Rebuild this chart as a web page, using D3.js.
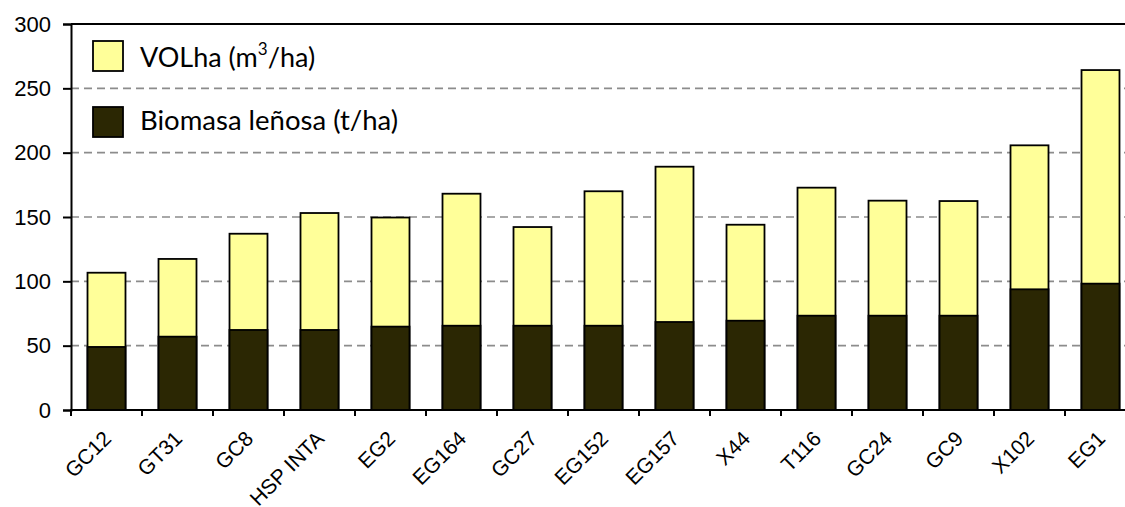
<!DOCTYPE html>
<html>
<head>
<meta charset="utf-8">
<script src="https://cdn.jsdelivr.net/npm/d3@7"></script>
<style>
  html, body { margin: 0; padding: 0; background: #fff; }
  svg { display: block; }
  .axis-text { font-family: "Liberation Sans", Arial, sans-serif; }
  .legend-text { font-family: Lato, "Open Sans", sans-serif; }
</style>
</head>
<body>
<svg id="chart" width="1125" height="507"></svg>
<script>
// Clones (categories), stand volume and woody biomass per hectare
const clones = ["GC12", "GT31", "GC8", "HSP INTA", "EG2", "EG164", "GC27", "EG152",
                "EG157", "X44", "T116", "GC24", "GC9", "X102", "EG1"];
const volumen = [106.7, 117.4, 137.0, 153.1, 149.6, 168.1, 142.2, 170.0,
                 189.1, 144.0, 172.8, 162.7, 162.4, 205.7, 264.2];
const biomasa = [49.0, 57.0, 62.2, 62.2, 64.8, 65.5, 65.5, 65.5,
                 68.4, 69.4, 73.3, 73.3, 73.3, 93.8, 98.2];
const yTicks = [0, 50, 100, 150, 200, 250, 300];

const svg = d3.select("#chart");

const x = d3.scaleBand()
  .domain(clones)
  .range([71, 1136])
  .paddingInner(0.465)
  .paddingOuter(0.2325);

const y = d3.scaleLinear().domain([0, 300]).range([410, 24]);

// horizontal dashed gridlines
svg.append("g")
  .selectAll("line")
  .data(yTicks.filter(d => d > 0 && d < 300))
  .join("line")
  .attr("x1", 71).attr("x2", 1136)
  .attr("y1", d => y(d)).attr("y2", d => y(d))
  .attr("stroke", "#8c8c8c")
  .attr("stroke-width", 1.6)
  .attr("stroke-dasharray", "8,5");

// solid top border of the plot area
svg.append("line")
  .attr("x1", 71).attr("x2", 1136)
  .attr("y1", y(300)).attr("y2", y(300))
  .attr("stroke", "#000").attr("stroke-width", 2);

// volume bars (behind)
svg.append("g")
  .selectAll("rect")
  .data(clones)
  .join("rect")
  .attr("x", d => x(d))
  .attr("width", x.bandwidth())
  .attr("y", (d, i) => y(volumen[i]))
  .attr("height", (d, i) => y(0) - y(volumen[i]))
  .attr("fill", "#FFFF99")
  .attr("stroke", "#000")
  .attr("stroke-width", 1.8);

// woody biomass bars (in front)
svg.append("g")
  .selectAll("rect")
  .data(clones)
  .join("rect")
  .attr("x", d => x(d))
  .attr("width", x.bandwidth())
  .attr("y", (d, i) => y(biomasa[i]))
  .attr("height", (d, i) => y(0) - y(biomasa[i]))
  .attr("fill", "#2B2703")
  .attr("stroke", "#000")
  .attr("stroke-width", 1.8);

// y axis
const yAxis = svg.append("g")
  .attr("transform", "translate(71,0)")
  .attr("font-family", null)
  .attr("font-size", null)
  .call(d3.axisLeft(y).tickValues(yTicks).tickSize(8).tickPadding(12).tickFormat(d3.format("d")));
yAxis.attr("font-family", null).attr("font-size", null);
yAxis.select(".domain").attr("stroke", "#000").attr("stroke-width", 2);
yAxis.selectAll(".tick line").attr("stroke", "#000").attr("stroke-width", 2);
yAxis.selectAll(".tick text")
  .attr("class", "axis-text")
  .style("font-size", "22px")
  .attr("fill", "#000");

// x axis: baseline with ticks at category boundaries
const step = x.step();
const boundaries = d3.range(clones.length + 1).map(i => x.range()[0] + i * step);
svg.append("line")
  .attr("x1", 70).attr("x2", 1136)
  .attr("y1", y(0)).attr("y2", y(0))
  .attr("stroke", "#000").attr("stroke-width", 2);
svg.append("g")
  .selectAll("line")
  .data(boundaries)
  .join("line")
  .attr("x1", d => d).attr("x2", d => d)
  .attr("y1", y(0)).attr("y2", y(0) + 6)
  .attr("stroke", "#000").attr("stroke-width", 2);

// rotated category labels
svg.append("g")
  .selectAll("text")
  .data(clones)
  .join("text")
  .attr("class", "axis-text")
  .attr("transform", d => `translate(${x(d) + x.bandwidth() / 2 + 6},440) rotate(-45)`)
  .attr("text-anchor", "end")
  .style("font-size", "21px")
  .attr("fill", "#000")
  .text(d => d);

// legend
const legend = svg.append("g");
const items = [
  { color: "#FFFF99", y: 41, base: 67 },
  { color: "#2B2703", y: 107, base: 130 }
];
legend.selectAll("rect")
  .data(items)
  .join("rect")
  .attr("x", 93).attr("y", d => d.y)
  .attr("width", 30).attr("height", 30)
  .attr("fill", d => d.color)
  .attr("stroke", "#000").attr("stroke-width", 1.8);

const t1 = legend.append("text")
  .attr("class", "legend-text")
  .attr("x", 140).attr("y", items[0].base)
  .style("font-size", "27px").attr("fill", "#000");
t1.append("tspan").text("VOLha (m");
t1.append("tspan").style("font-size", "17px").attr("dy", -12).text("3");
t1.append("tspan").attr("dy", 12).text("/ha)");

legend.append("text")
  .attr("class", "legend-text")
  .attr("x", 140).attr("y", items[1].base)
  .style("font-size", "27.5px").attr("fill", "#000")
  .text("Biomasa leñosa (t/ha)");
</script>
</body>
</html>
